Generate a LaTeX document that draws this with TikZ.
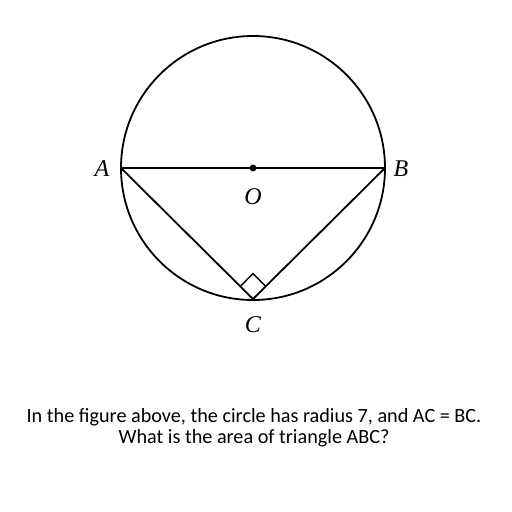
\documentclass[tikz,border=0pt]{standalone}
\usepackage{fontspec}
\usetikzlibrary{calc}
\setmainfont{Carlito}
\newfontfamily\lblfont{Liberation Serif}
\begin{document}
\begin{tikzpicture}[x=1pt,y=-1pt,
  geo/.style={line width=1.8pt,black},
  lbl/.style={font=\lblfont\itshape\fontsize{24}{24}\selectfont,inner sep=0pt},
  caption/.style={font=\fontsize{20.2}{21}\selectfont,align=center,inner sep=0pt}]
\useasboundingbox (0,0) rectangle (512,512);
\coordinate (O) at (253,168);
\coordinate (A) at (121,168);
\coordinate (B) at (385,168);
\coordinate (C) at (253,299);
\draw[geo] (O) circle[radius=132];
\draw[geo] (A) -- (B);
\draw[geo] (A) -- (C) -- (B);
\draw[line width=1.3pt] (C) ++(-12.7,-12.7) coordinate (rp) -- ++(12.7,-12.7) coordinate (rq) -- ++(12.7,12.7) coordinate (rr);
\fill (O) circle[radius=3.4];
\node[lbl] (la) at (102,169) {A};
\node[lbl] (lb) at (401,169) {B};
\node[lbl] (lo) at (253,197) {O};
\node[lbl] (lc) at (253,325) {C};
\node[caption] (t) at (254,428) {In the figure above, the circle has radius 7, and AC = BC.\\What is the area of triangle ABC?};
\end{tikzpicture}
\end{document}
